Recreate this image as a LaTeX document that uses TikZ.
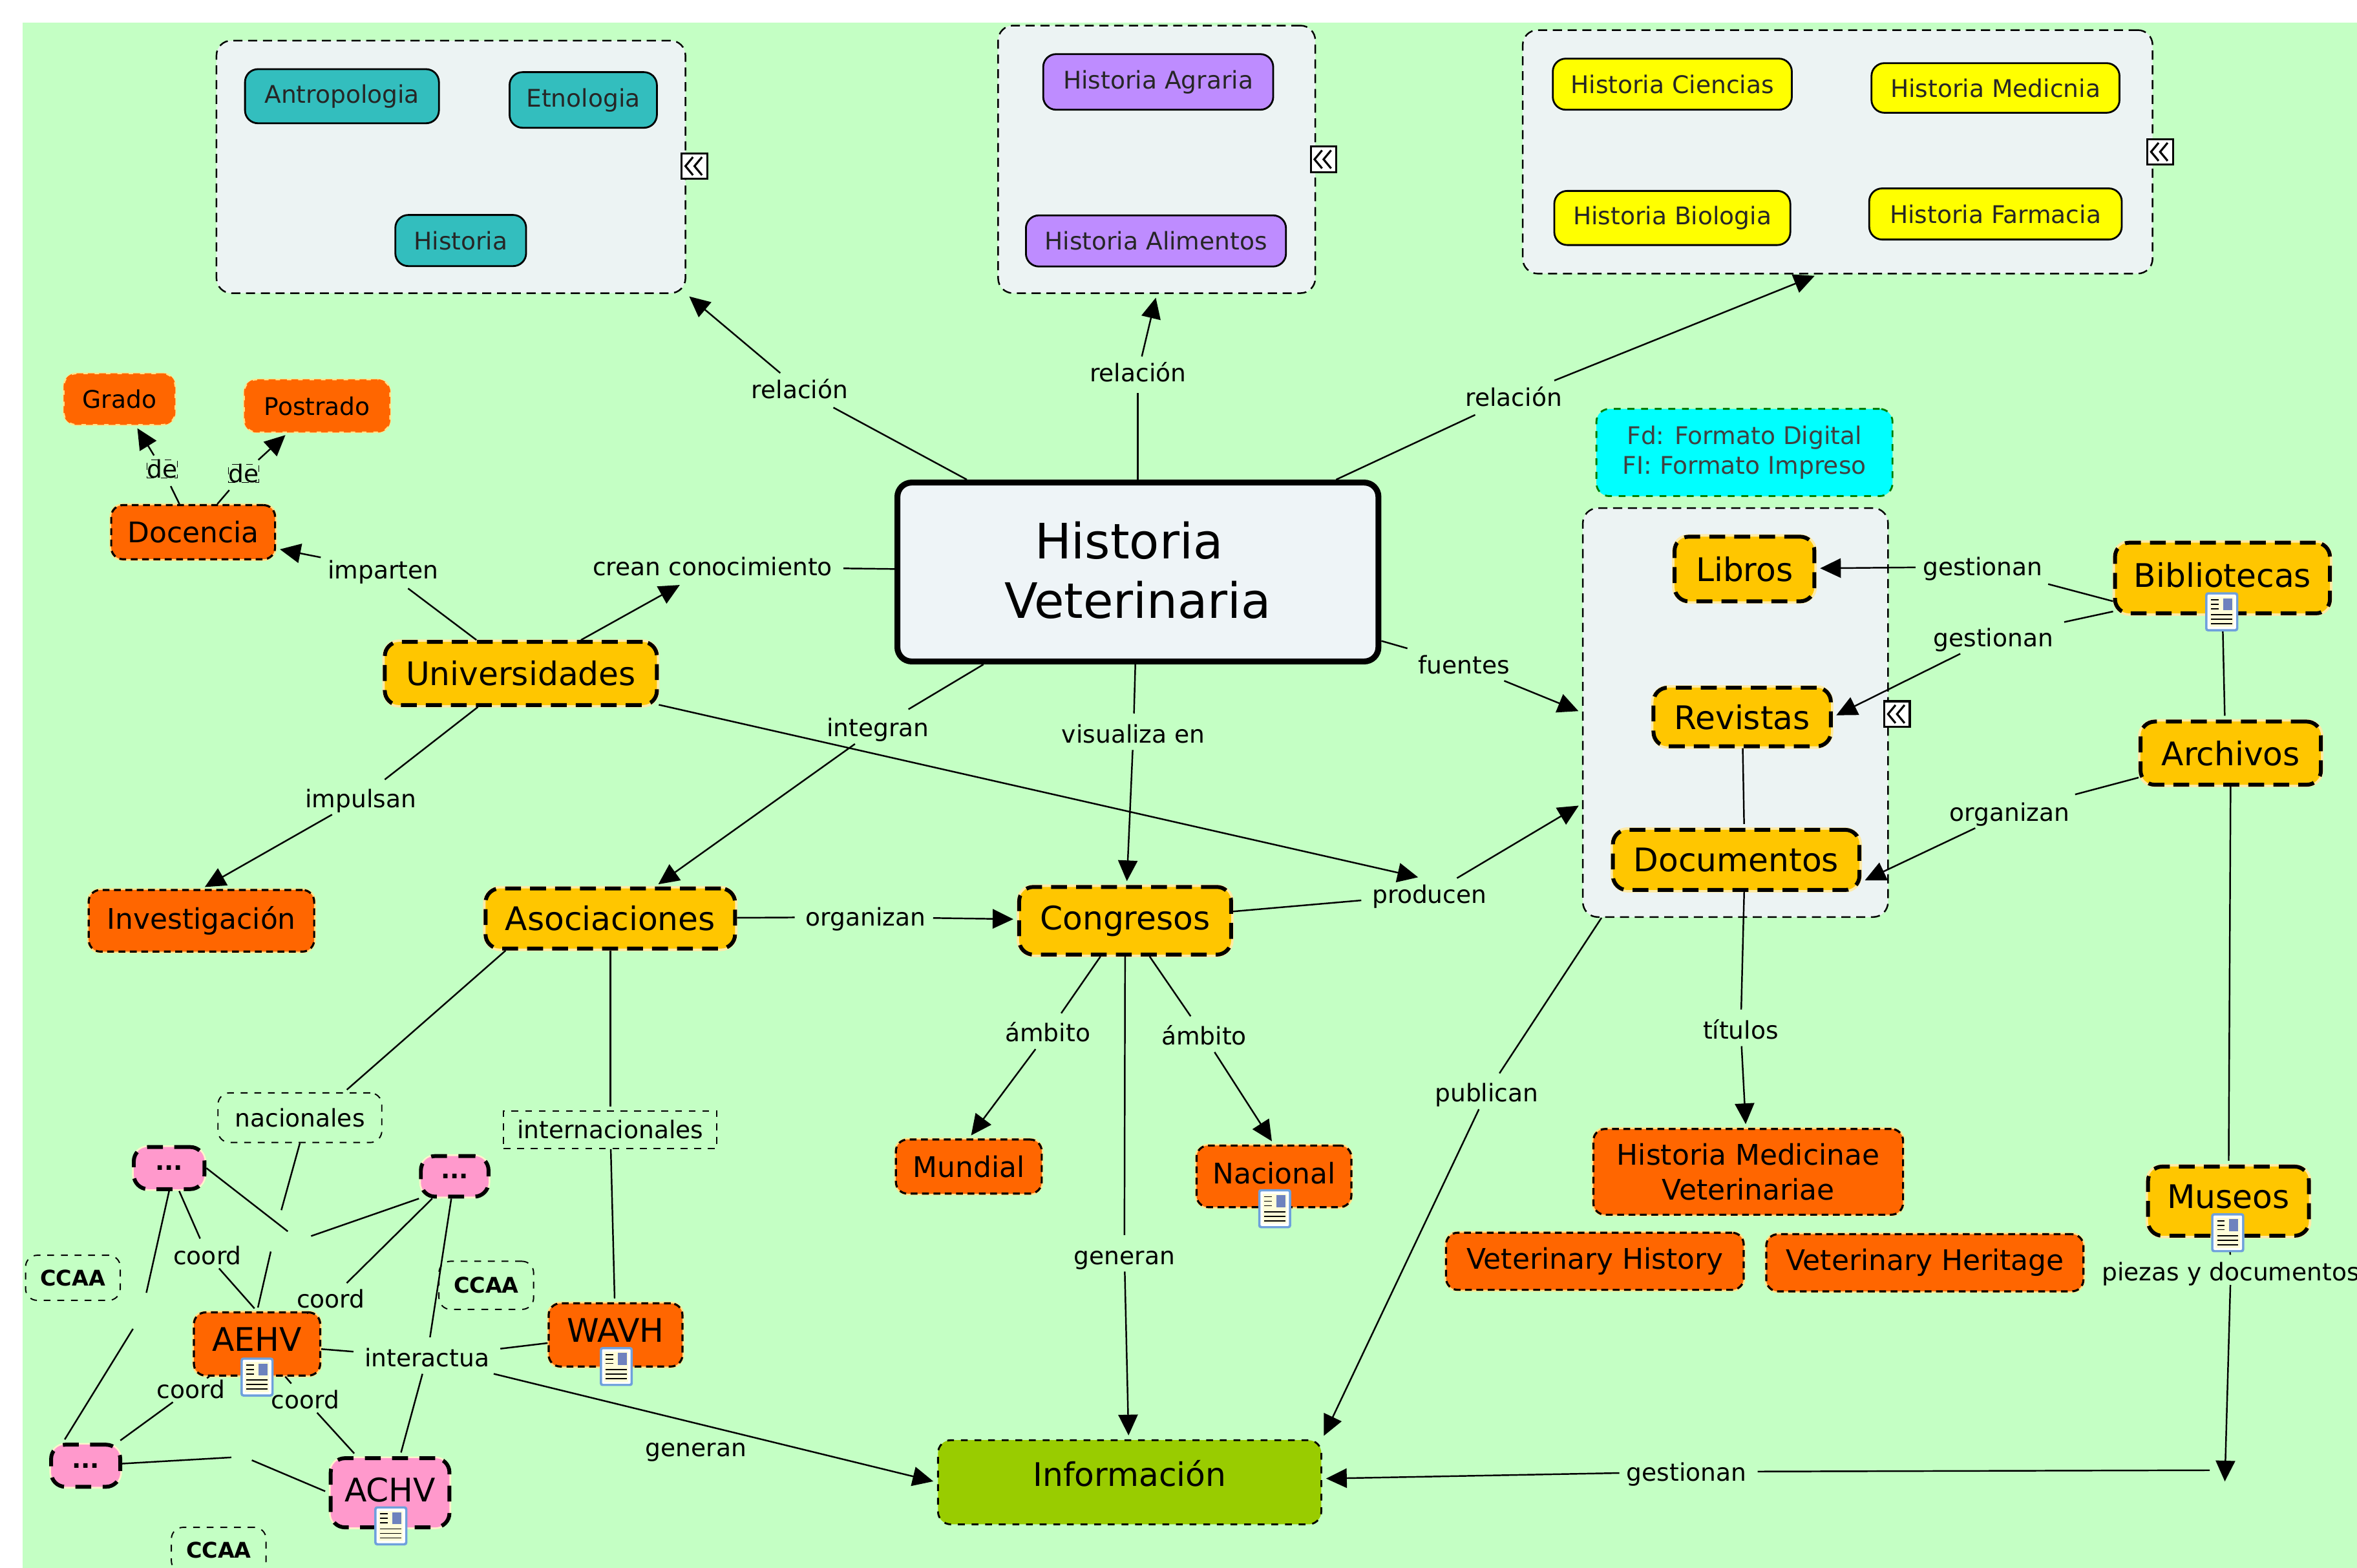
\documentclass[tikz,border=0pt]{standalone}
\usepackage{fontspec}
\setmainfont{DejaVu Sans}
\usetikzlibrary{arrows.meta}

\definecolor{bggreen}{RGB}{196,255,196}
\definecolor{panelgrey}{RGB}{236,243,243}
\definecolor{tealbox}{RGB}{51,190,190}
\definecolor{purplebox}{RGB}{190,140,255}
\definecolor{yellowbox}{RGB}{255,255,0}
\definecolor{cyanbox}{RGB}{0,255,255}
\definecolor{amberbox}{RGB}{255,198,0}
\definecolor{orangebox}{RGB}{255,102,0}
\definecolor{pinkbox}{RGB}{255,153,204}
\definecolor{olivebox}{RGB}{153,204,0}
\definecolor{centerbox}{RGB}{238,244,247}
\definecolor{iconblue}{RGB}{110,160,220}
\definecolor{iconpic}{RGB}{110,130,190}

\newcommand{\fhuge}{\fontsize{21.5}{25.7}\selectfont}
\newcommand{\fbig}{\fontsize{14.3}{17}\selectfont}
\newcommand{\fmid}{\fontsize{12.5}{15.2}\selectfont}
\newcommand{\fsmall}{\fontsize{10.7}{13.2}\selectfont}

\begin{document}
\begin{tikzpicture}[x=0.2326mm, y=-0.2326mm, >={Triangle[length=3.2mm,width=3mm]},
		line width=0.7pt, shorten >=0.6mm,
		sz/.style 2 args={minimum width=#1*0.2326mm, minimum height=#2*0.2326mm, inner sep=0pt},
		lift/.style={text depth=#1},
		panel/.style={draw, line width=0.7pt, fill=panelgrey, rounded corners=2.3mm, dash pattern=on 4pt off 2.5pt},
		flat/.style={draw, solid, line width=0.8pt, rounded corners=2mm, font=\fsmall, text=black!85},
		amber/.style={draw, line width=1.7pt, dash pattern=on 7pt off 4pt, fill=amberbox, rounded corners=2.2mm, font=\fbig,
			preaction={draw=amberbox!35, solid, line width=2.2pt}},
		orange/.style={draw, line width=0.9pt, dash pattern=on 3pt off 2pt, fill=orangebox, rounded corners=1.8mm, font=\fmid,
			preaction={draw=amberbox!45, solid, line width=1.5pt}},
		pink/.style={draw, line width=1.7pt, dash pattern=on 7pt off 5pt, fill=pinkbox, rounded corners=2.2mm, font=\fbig,
			preaction={draw=amberbox!20, solid, line width=1.5pt}},
		tag/.style={draw, dashed, line width=0.55pt, rounded corners=1.8mm, font=\fsmall},
		lbl/.style={font=\fsmall, inner sep=1mm, text height=8pt, text depth=0pt},
		hid/.style={sz={10}{24}},
		docicon/.pic={
			\fill[iconblue, rounded corners=0.4mm] (-11,-13) rectangle (11,13);
			\fill[white, rounded corners=0.2mm] (-9.5,-11.5) rectangle (9.5,11.5);
			\fill[yellow!15] (-8,-10) rectangle (8,10);
			\fill[iconpic] (1,-9) rectangle (7,-1);
			\foreach \yy in {-8,-5,-2} \draw[line width=0.5pt, shorten >=0pt] (-7,\yy) -- (-2,\yy);
			\foreach \yy in {2,5,8} \draw[line width=0.5pt, shorten >=0pt] (-7,\yy) -- (7,\yy);
		},
		expander/.pic={
			\draw[fill=white, line width=0.9pt] (-8.5,-8.5) rectangle (8.5,8.5);
			\draw[line width=0.9pt, shorten >=0pt] (-1,-6) -- (-6,0) -- (-1,6);
			\draw[line width=0.9pt, shorten >=0pt] (5,-6) -- (0,0) -- (5,6);
		}]
		\useasboundingbox (0,0) rectangle (1568,1043);
		\clip (0,0) rectangle (1568,1043);
		\fill[bggreen] (15,15) rectangle (1568,1043);

		% panels
		\node[panel, sz={312}{168}] (anthro) at (300,111) {};
		\node[panel, sz={211}{178}] (agrar) at (769.5,106) {};
		\node[panel, sz={419}{162}] (scien) at (1222.5,101) {};
		\node[panel, sz={203}{272}] (sources) at (1154.5,474) {};

		\node[flat, fill=tealbox, sz={129}{36}] (antro) at (227.5,64) {Antropologia};
		\node[flat, fill=tealbox, sz={98}{37}] (etno) at (388,66.5) {Etnologia};
		\node[flat, fill=tealbox, sz={87}{34}] (hist) at (306.5,160) {Historia};
		\node[flat, fill=purplebox, sz={153}{37}] (hagra) at (770.5,54.5) {Historia Agraria};
		\node[flat, fill=purplebox, sz={173}{34}] (halim) [below of=hagra, node distance=24.6mm, xshift=-1pt] {Historia Alimentos};
		\node[flat, fill=yellowbox, sz={159}{34}] (hcien) at (1112.5,56) {Historia Ciencias};
		\node[flat, fill=yellowbox, sz={165}{33}] (hmedi) at (1327.5,58.5) {Historia Medicnia};
		\node[flat, fill=yellowbox, sz={157}{36}] (hbiol) [below of=hcien, node distance=20.7mm] {Historia Biologia};
		\node[flat, fill=yellowbox, sz={168}{34}] (hfarm) [below of=hmedi, node distance=19.5mm] {Historia Farmacia};
		\node[flat, draw=green!50!black, dashed, fill=cyanbox, sz={197}{58}, align=center, text=black!75] (legend) at (1160.5,301) {Fd: Formato Digital\\FI: Formato Impreso};

		% central node
		\node[draw, line width=2.6pt, fill=centerbox, rounded corners=2.2mm, sz={320}{119}, font=\fhuge, align=center] (center) at (757,380.5) {\raisebox{0.8mm}{Historia\hspace*{2.8mm}}\\\raisebox{0.6mm}{Veterinaria}};

		% concepts
		\node[orange, draw=orangebox, sz={73}{33}, font=\fsmall] (grado) at (79.5,265.5) {Grado};
		\node[orange, draw=orangebox, sz={96}{34}, font=\fsmall] (postr) at (211,270) {Postrado};
		\node[orange, sz={109}{36}] (docen) at (128.5,354) {Docencia};
		\node[amber, sz={181}{42}] (univ) at (346.5,448) {Universidades};
		\node[orange, sz={150}{41}] (inves) at (134,612.5) {Investigación};
		\node[amber, sz={166}{40}] (asoc) at (406,611) {Asociaciones};
		\node[amber, sz={141}{45}] (congr) at (748.5,612.5) {Congresos};
		\node[amber, sz={93}{43}] (libros) at (1160.5,378.5) {Libros};
		\node[amber, sz={118}{39}] (revis) [below of=libros, node distance=22.9mm, xshift=-1pt] {Revistas};
		\node[amber, sz={164}{40}] (docum) at (1155,572) {Documentos};
		\node[amber, sz={143}{47}, lift=1mm] (bibl) at (1478.5,384.5) {Bibliotecas};
		\node[amber, sz={120}{42}] (arch) at (1484,501) {Archivos};
		\node[amber, sz={107}{46}, lift=1.5mm] (museo) at (1482.5,799) {Museos};
		\node[orange, sz={97}{36}] (mund) at (644.5,776) {Mundial};
		\node[orange, sz={103}{41}, lift=1mm] (nacio) at (847.5,782.5) {Nacional};
		\node[orange, sz={206}{57}, align=center] (hmv) at (1163,779.5) {Historia Medicinae\\Veterinariae};
		\node[orange, sz={198}{38}] (vhist) at (1061,839) {Veterinary History};
		\node[orange, sz={211}{38}] (vheri) at (1280.5,840) {Veterinary Heritage};
		\node[draw, dashed, line width=0.8pt, fill=olivebox, rounded corners=2mm, sz={255}{56}, font=\fbig, lift=2.8mm] (info) at (751.5,986) {Información};
		\node[orange, sz={84}{42}, font=\fbig, lift=1.5mm] (aehv) at (171,894) {AEHV};
		\node[orange, sz={89}{42}, font=\fbig, lift=1.5mm] (wavh) at (409.5,888) {WAVH};
		\node[pink, sz={79}{46}, font=\fbig, lift=1mm] (achv) at (259.5,993) {ACHV};
		\node[pink, sz={47}{28}, font=\fsmall\bfseries] (dota) at (112.5,777) {...};
		\node[pink, sz={45}{27}, font=\fsmall\bfseries] (dotb) at (302.5,782.5) {...};
		\node[pink, sz={46}{28}, font=\fsmall\bfseries] (dotc) at (57,975) {...};
		\node[tag, sz={63}{30}, font=\fontsize{9.5}{11}\selectfont\bfseries] (ccaaa) at (48.5,850) {CCAA};
		\node[tag, sz={63}{32}, font=\fontsize{9.5}{11}\selectfont\bfseries] (ccab) at (323.5,855) {CCAA};
		\node[tag, sz={63}{30}, font=\fontsize{9.5}{11}\selectfont\bfseries] (ccac) at (145.5,1031) {CCAA};
		\node[tag, sz={109}{33}] (nac) at (199.5,743.5) {nacionales};
		\node[tag, rounded corners=0pt, sz={142}{25}] (inter) at (406,751.5) {internacionales};

		% link labels
		\node[lbl] (rela) at (532,259) {relación};
		\node[lbl] (relb) at (757,248) {relación};
		\node[lbl] (relc) at (1007,264) {relación};
		\node[lbl] (crean) at (474,377) {crean conocimiento};
		\node[lbl] (impar) at (255,379) {imparten};
		\node[lbl] (integ) at (584,484) {integran};
		\node[lbl] (visua) at (754,488) {visualiza en};
		\node[lbl] (fuent) at (974,442) {fuentes};
		\node[lbl] (impul) at (240,531) {impulsan};
		\node[lbl] (orga) at (576,610) {organizan};
		\node[lbl] (produ) at (951,595) {producen};
		\node[lbl] (gesa) at (1319,377) {gestionan};
		\node[lbl] (gesb) at (1326,424) {gestionan};
		\node[lbl] (orgb) at (1337,540) {organizan};
		\node[lbl] (titu) at (1158,685) {títulos};
		\node[lbl] (amba) at (697,687) {ámbito};
		\node[lbl] (ambb) at (801,689) {ámbito};
		\node[lbl] (gena) at (748,835) {generan};
		\node[lbl] (publ) at (989,727) {publican};
		\node[lbl, inner sep=0.5mm] (piez) at (1484,846) {piezas y documentos};
		\node[lbl] (gesc) at (1122,979) {gestionan};
		\node[lbl] (genb) at (463,963) {generan};
		\node[lbl] (inte) at (284,903) {interactua};
		\node[lbl, inner sep=0.5mm] (cooa) at (138,835) {coord};
		\node[lbl, inner sep=0.5mm] (coob) at (220,864) {coord};
		\node[lbl, inner sep=0.5mm] (cooc) at (127,924) {coord};
		\node[lbl, inner sep=0.5mm] (cood) at (203,931) {coord};
		\node[lbl, draw, dashed, line width=0.4pt, inner sep=0pt, outer sep=0.7mm] (dea) at (108,312) {de};
		\node[lbl, draw, dashed, line width=0.4pt, inner sep=0pt, outer sep=0.7mm] (deb) at (162,315) {de};

		% empty joints
		\node[hid] (gapn) at (183,820) {};
		\node[hid] (gapd) at (199,825) {};
		\node[hid] (gapl) at (94,875) {};
		\node[hid] (gapb) at (162,969) {};
		\coordinate (pzend) at (1480,988);
		\coordinate (pzstart) at (1470,978);

		\path
		(center) edge (rela)
		(center) edge (relb)
		(center) edge (relc)
		(center) edge (crean)
		(center) edge (integ)
		(center) edge (visua)
		(center) edge (fuent)
		(univ) edge (impar)
		(univ) edge (impul)
		(docen) edge (dea)
		(docen) edge (deb)
		(congr) edge (produ)
		(asoc) edge (orga)
		(congr) edge (amba)
		(congr) edge (ambb)
		(congr) edge (gena)
		(bibl.192) edge (gesa)
		(bibl.197) edge (gesb)
		(bibl.south) edge (arch.100)
		(arch) edge (museo)
		(arch) edge (orgb)
		(revis) edge (docum.76)
		(docum.-76) edge (titu)
		(sources) edge (publ)
		(museo) edge (piez)
		(pzstart) edge (gesc)
		(asoc.-163) edge (nac.30)
		(asoc.south) edge (inter)
		(inter) edge (wavh)
		(nac.south) edge (gapn)
		(gapn) edge (aehv.north)
		(dota.east) edge (gapd)
		(dotb.south west) edge (gapd)
		(dota.south) edge (gapl)
		(gapl) edge (dotc.135)
		(dotc) edge (gapb)
		(gapb) edge (achv.west)
		(dota) edge (cooa)
		(cooa) edge (aehv.north)
		(dotb) edge (coob)
		(coob) edge (aehv)
		(aehv) edge (cooc)
		(cooc) edge (dotc)
		(aehv) edge (cood)
		(cood) edge (achv)
		(dotb) edge (inte)
		(inte) edge (achv)
		(aehv) edge (inte)
		(wavh) edge (inte);

		\path[->]
		(rela) edge (anthro.south east)
		(relb) edge (agrar.south)
		(relc) edge (scien.-99)
		(univ) edge (crean)
		(impar) edge (docen)
		(dea) edge (grado)
		(deb) edge (postr)
		(impul) edge (inves.north)
		(univ) edge (produ.115)
		(produ) edge (sources)
		(integ) edge (asoc)
		(visua) edge (congr)
		(fuent) edge (sources.west)
		(orga) edge (congr)
		(amba) edge (mund.north)
		(ambb) edge (nacio.north)
		(gena) edge (info)
		(gesa) edge (libros)
		(gesb) edge (revis.east)
		(orgb) edge (docum.-10)
		(titu) edge (hmv)
		(publ) edge (info.north east)
		(piez) edge (pzend)
		(gesc) edge (info)
		(inte) edge (info.west);

		% small marks on the nodes
		\pic at (848,804) {docicon};
		\pic at (171,916) {docicon};
		\pic at (410,909) {docicon};
		\pic at (260,1015) {docicon};
		\pic at (1478,407) {docicon};
		\pic at (1482,820) {docicon};
		\pic at (462,110.5) {expander};
		\pic at (880.5,106) {expander};
		\pic at (1437,101) {expander};
		\pic at (1262,475) {expander};
	\end{tikzpicture}
\end{document}
